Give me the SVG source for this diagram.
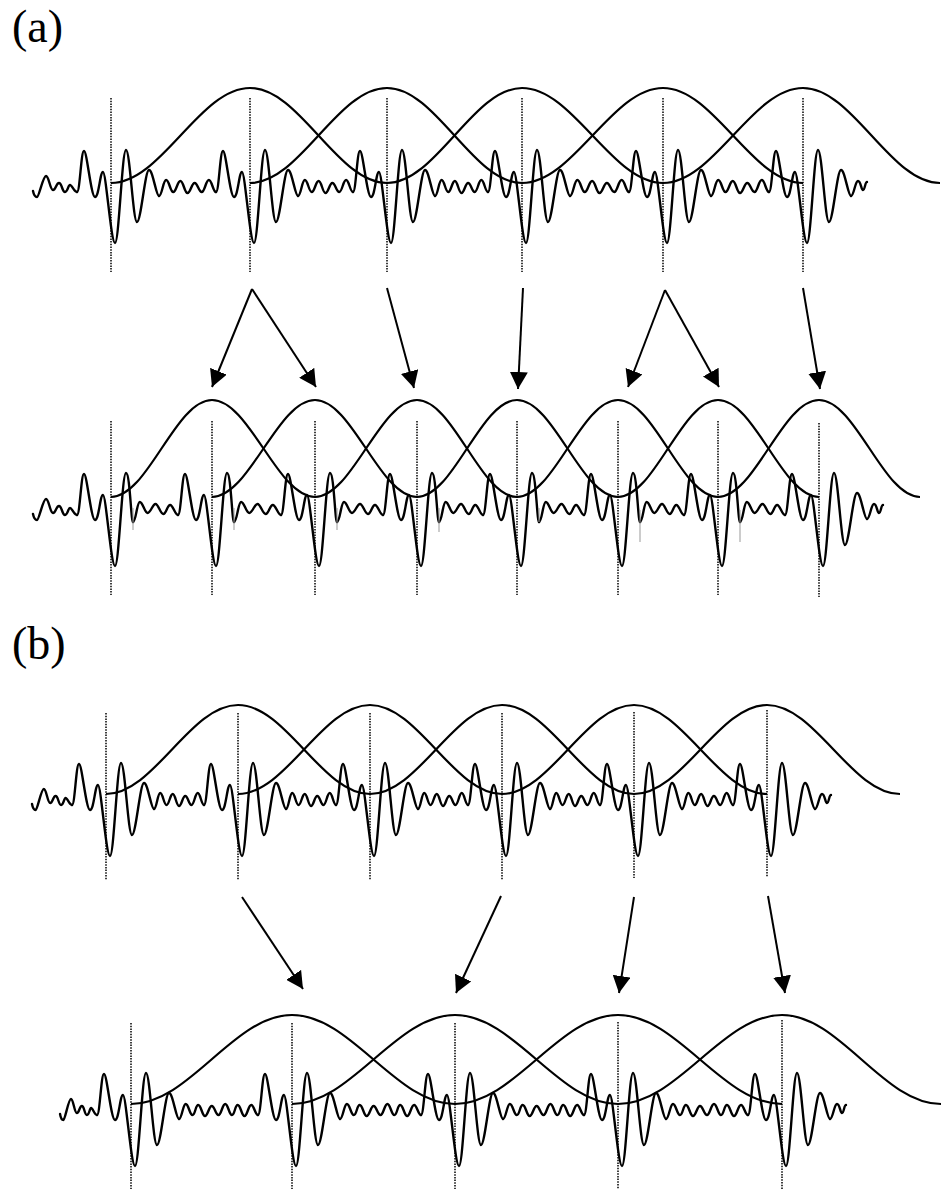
<svg xmlns="http://www.w3.org/2000/svg" width="941" height="1191" viewBox="0 0 941 1191">
<style>
 .lbl{font-family:"Liberation Serif","Times New Roman",serif;font-size:46px;fill:#000}
 .win{fill:none;stroke:#000;stroke-width:2.2;stroke-linejoin:round}
 .mk{fill:none;stroke:#000;stroke-width:1.5;stroke-dasharray:1.5 1.2}
 .seg{fill:none;stroke:#999;stroke-width:1}
 .arr{fill:none;stroke:#000;stroke-width:2;marker-end:url(#ah)}
</style>
<defs>
 <marker id="ah" markerUnits="userSpaceOnUse" markerWidth="18" markerHeight="18" refX="17" refY="9" orient="auto" viewBox="0 0 18 18"><path d="M0,0 L17,9 L0,18 z" fill="#000"/></marker>
 <path id="lead" d="M-78,4 C-77,9 -76,10 -74,10 S-68,-11 -65,-11 S-61,3 -58,3 S-55,-4 -52,-4 S-49,5 -46,5 S-43,-2 -41,-2 S-37,5 -34,5" vector-effect="non-scaling-stroke"/>
 <path id="p" d="M-34,5 C-31,5 -30,-36 -27,-36 S-20,10 -16,10 S-11,-15 -8,-15 S0,56 4,56 S11,-37 15,-37 S22,35 26,35 S34,-17 38,-17 S45,9 48,9"/>
 <path id="pa" d="M-34,5 C-31,5 -30,-36 -27,-36 S-20,10 -16,10 S-11,-15 -8,-15 S0,56 4,56 S11,-37 15,-37 S20,12 22,12"/>
 <path id="f" d="M0,9 C3,9 4,-7 7,-7 S11,5 14,5 S18,-6 21,-6 S25,6 28,6 S32,-4 35,-4 S39,5 42,5 S46,-7 49,-7 S53,5 56,5" vector-effect="non-scaling-stroke"/>
 <path id="g" d="M0,12 C3,12 4,-8 7,-8 S12,3 15,3 S20,-6 23,-6 S28,4 31,4 S35,-5 38,-5 S43,5 46,5" vector-effect="non-scaling-stroke"/>
 <path id="h" d="M0,9 C3,9 4,-6 7,-6 S11,5 14,5 S17,-5 20,-5 S24,6 27,6 S31,-4 34,-4 S38,5 41,5 S45,-6 48,-6 S52,5 55,5 S58,-5 61,-5 S65,6 68,6 S72,-5 75,-5 S79,5 82,5" vector-effect="non-scaling-stroke"/>
 <path id="e" d="M48,9 C51,9 52,-6 55,-6 S58,3 60,3 S62,-5 64,-5"/>
</defs>
<rect width="941" height="1191" fill="#fff"/>

<g id="label-a"><text class="lbl" x="12" y="42">(a)</text></g>
<g id="label-b"><text class="lbl" x="12" y="659">(b)</text></g>

<g id="a-top">
 <g id="a-top-signal" fill="none" stroke="#000" stroke-width="2.4" stroke-linejoin="round" stroke-linecap="round">
  <use href="#lead" transform="translate(111,187)"/>
  <use href="#p" transform="translate(111,187)"/>
  <use href="#f" transform="translate(159,187) scale(1.018,1)"/>
  <use href="#p" transform="translate(250,187)"/>
  <use href="#f" transform="translate(298,187) scale(0.982,1)"/>
  <use href="#p" transform="translate(387,187)"/>
  <use href="#f" transform="translate(435,187) scale(0.946,1)"/>
  <use href="#p" transform="translate(522,187)"/>
  <use href="#f" transform="translate(570,187) scale(1.054,1)"/>
  <use href="#p" transform="translate(663,187)"/>
  <use href="#f" transform="translate(711,187) scale(1.036,1)"/>
  <use href="#p" transform="translate(803,187)"/>
  <use href="#e" transform="translate(803,187)"/>
 </g>
 <g id="a-top-windows" class="win">
  <path d="M111,183 C161.6,183 199.4,88 250,88 C299.9,88 337.1,183 387,183"/>
  <path d="M250,183 C299.9,183 337.1,88 387,88 C436.1,88 472.9,183 522,183"/>
  <path d="M387,183 C436.1,183 472.9,88 522,88 C573.3,88 611.7,183 663,183"/>
  <path d="M522,183 C573.3,183 611.7,88 663,88 C714,88 752,183 803,183"/>
  <path d="M663,183 C714,183 752,88 803,88 C852.9,88 890.1,183 940,183"/>
 </g>
 <path id="a-top-marks" class="mk" d="M111,98V272 M250,98V272 M387,98V272 M522,98V272 M663,98V272 M803,98V272"/>
</g>

<g id="a-bottom">
 <g id="a-bottom-signal" fill="none" stroke="#000" stroke-width="2.4" stroke-linejoin="round" stroke-linecap="round">
  <use href="#lead" transform="translate(111,510)"/>
  <use href="#pa" transform="translate(111,510)"/>
  <use href="#g" transform="translate(133,510) scale(0.978,1)"/>
  <use href="#pa" transform="translate(212,510)"/>
  <use href="#g" transform="translate(234,510) scale(1.022,1)"/>
  <use href="#pa" transform="translate(315,510)"/>
  <use href="#g" transform="translate(337,510)"/>
  <use href="#pa" transform="translate(417,510)"/>
  <use href="#g" transform="translate(439,510) scale(0.957,1)"/>
  <use href="#pa" transform="translate(517,510)"/>
  <use href="#g" transform="translate(539,510) scale(0.978,1)"/>
  <use href="#pa" transform="translate(618,510)"/>
  <use href="#g" transform="translate(640,510) scale(0.957,1)"/>
  <use href="#pa" transform="translate(718,510)"/>
  <use href="#g" transform="translate(740,510) scale(0.978,1)"/>
  <use href="#p" transform="translate(819,510)"/>
  <use href="#e" transform="translate(819,510)"/>
 </g>
 <path id="a-bottom-segments" class="seg" d="M133,508V530 M234,508V530 M337,508V530 M439,508V532 M539,508V522 M640,510V542 M740,510V542"/>
 <g id="a-bottom-windows" class="win">
  <path d="M111,497 C147.8,497 175.2,400 212,400 C249.5,400 277.5,497 315,497"/>
  <path d="M212,497 C249.5,497 277.5,400 315,400 C352.1,400 379.9,497 417,497"/>
  <path d="M315,497 C352.1,497 379.9,400 417,400 C453.4,400 480.6,497 517,497"/>
  <path d="M417,497 C453.4,497 480.6,400 517,400 C553.8,400 581.2,497 618,497"/>
  <path d="M517,497 C553.8,497 581.2,400 618,400 C654.4,400 681.6,497 718,497"/>
  <path d="M618,497 C654.4,497 681.6,400 718,400 C754.8,400 782.2,497 819,497"/>
  <path d="M718,497 C754.8,497 782.2,400 819,400 C855.8,400 883.2,497 920,497"/>
 </g>
 <path id="a-bottom-marks" class="mk" d="M111,421V595 M212,421V595 M315,421V595 M417,421V595 M517,421V595 M618,421V595 M718,421V595 M819,423V597"/>
</g>

<g id="b-top">
 <g id="b-top-signal" fill="none" stroke="#000" stroke-width="2.4" stroke-linejoin="round" stroke-linecap="round">
  <use href="#lead" transform="translate(72,800) scale(0.909,1) translate(34,0)"/>
  <use href="#p" transform="translate(106,800)"/>
  <use href="#f" transform="translate(154,800) scale(0.893,1)"/>
  <use href="#p" transform="translate(238,800)"/>
  <use href="#f" transform="translate(286,800) scale(0.893,1)"/>
  <use href="#p" transform="translate(370,800)"/>
  <use href="#f" transform="translate(418,800) scale(0.893,1)"/>
  <use href="#p" transform="translate(502,800)"/>
  <use href="#f" transform="translate(550,800) scale(0.893,1)"/>
  <use href="#p" transform="translate(634,800)"/>
  <use href="#f" transform="translate(682,800) scale(0.911,1)"/>
  <use href="#p" transform="translate(767,800)"/>
  <use href="#e" transform="translate(767,800)"/>
 </g>
 <g id="b-top-windows" class="win">
  <path d="M106,794 C154,794 190,705 238,705 C286,705 322,794 370,794"/>
  <path d="M238,794 C286,794 322,705 370,705 C418,705 454,794 502,794"/>
  <path d="M370,794 C418,794 454,705 502,705 C550,705 586,794 634,794"/>
  <path d="M502,794 C550,794 586,705 634,705 C682.4,705 718.6,794 767,794"/>
  <path d="M634,794 C682.4,794 718.6,705 767,705 C815.4,705 851.6,794 900,794"/>
 </g>
 <path id="b-top-marks" class="mk" d="M106,713V880 M238,713V880 M370,713V880 M502,713V880 M634,712V878 M767,710V877"/>
</g>

<g id="b-bottom">
 <g id="b-bottom-signal" fill="none" stroke="#000" stroke-width="2.4" stroke-linejoin="round" stroke-linecap="round">
  <use href="#lead" transform="translate(97,1110) scale(0.84,1) translate(34,0)"/>
  <use href="#p" transform="translate(131,1110)"/>
  <use href="#h" transform="translate(179,1110) scale(0.963,1)"/>
  <use href="#p" transform="translate(292,1110)"/>
  <use href="#h" transform="translate(340,1110) scale(0.988,1)"/>
  <use href="#p" transform="translate(455,1110)"/>
  <use href="#h" transform="translate(503,1110) scale(0.988,1)"/>
  <use href="#p" transform="translate(618,1110)"/>
  <use href="#h" transform="translate(666,1110)"/>
  <use href="#p" transform="translate(782,1110)"/>
  <use href="#e" transform="translate(782,1110)"/>
 </g>
 <g id="b-bottom-windows" class="win">
  <path d="M131,1104 C189.6,1104 233.4,1015 292,1015 C351.3,1015 395.7,1104 455,1104"/>
  <path d="M292,1104 C351.3,1104 395.7,1015 455,1015 C514.3,1015 558.7,1104 618,1104"/>
  <path d="M455,1104 C514.3,1104 558.7,1015 618,1015 C677.7,1015 722.3,1104 782,1104"/>
  <path d="M618,1104 C677.7,1104 722.3,1015 782,1015 C839.9,1015 883.1,1104 941,1104"/>
 </g>
 <path id="b-bottom-marks" class="mk" d="M131,1023V1189 M292,1023V1189 M455,1023V1189 M618,1022V1189 M782,1020V1189"/>
</g>

<g id="connectors">
 <line class="arr" x1="252" y1="289" x2="212" y2="387"/>
 <line class="arr" x1="252" y1="289" x2="316" y2="387"/>
 <line class="arr" x1="387" y1="288" x2="414" y2="388"/>
 <line class="arr" x1="523" y1="288" x2="518" y2="389"/>
 <line class="arr" x1="665" y1="290" x2="628" y2="387"/>
 <line class="arr" x1="665" y1="290" x2="719" y2="387"/>
 <line class="arr" x1="803" y1="288" x2="820" y2="389"/>
 <line class="arr" x1="242" y1="897" x2="303" y2="989"/>
 <line class="arr" x1="501" y1="896" x2="456" y2="993"/>
 <line class="arr" x1="634" y1="897" x2="619" y2="993"/>
 <line class="arr" x1="768" y1="896" x2="785" y2="993"/>
</g>
</svg>
